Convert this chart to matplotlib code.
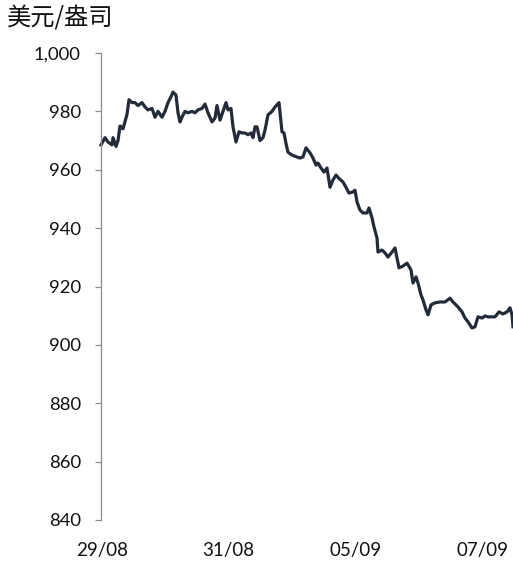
"""Gold price intraday line (USD/oz), 29/08 - 07/09."""

import matplotlib

matplotlib.use("Agg")

import matplotlib.pyplot as plt
from matplotlib.ticker import FuncFormatter

obs = [0, 4, 7, 11, 12, 15, 17, 19, 22, 26, 28, 31, 34, 37, 41, 44, 47, 51,
       54, 57, 61, 64, 67, 70, 72, 75, 77, 79, 81, 84, 87, 91, 94, 97, 101,
       104, 107, 111, 114, 116, 119, 122, 125, 127, 130, 132, 135, 138, 141,
       144, 147, 150, 152, 154, 156, 159, 162, 164, 167, 171, 174, 178, 181,
       183, 185, 187, 191, 196, 199, 202, 205, 209, 212, 215, 217, 220, 223,
       226, 229, 232, 235, 238, 242, 245, 248, 252, 254, 256, 259, 262, 266,
       268, 271, 273, 276, 277, 281, 284, 287, 291, 294, 296, 298, 302, 306,
       310, 312, 315, 317, 320, 322, 325, 327, 330, 334, 339, 344, 349, 352,
       357, 361, 364, 367, 371, 374, 377, 381, 384, 387, 391, 394, 398, 402,
       406, 409, 411, 412]
price = [968.5, 971.0, 969.5, 968.5, 971.0, 968.0, 970.0, 975.0, 974.0, 979.0,
         984.0, 983.0, 983.0, 982.0, 983.0, 981.5, 980.5, 981.0, 978.0, 980.0,
         978.0, 980.0, 983.0, 985.0, 986.6, 985.6, 979.5, 976.4, 978.0, 980.0,
         979.5, 980.0, 979.5, 980.5, 981.0, 982.5, 979.5, 976.4, 977.7, 982.0,
         977.0, 980.0, 983.0, 980.5, 981.0, 974.7, 969.5, 973.0, 972.6, 972.6,
         972.0, 972.6, 971.0, 974.7, 974.7, 970.0, 971.0, 973.6, 978.8, 980.0,
         981.5, 983.0, 973.0, 972.6, 969.0, 966.0, 965.0, 964.4, 964.0, 964.4,
         967.5, 965.8, 964.0, 961.6, 962.3, 960.6, 959.2, 960.6, 954.0, 956.5,
         958.2, 957.0, 955.8, 954.0, 952.0, 952.4, 953.0, 949.0, 946.2, 945.2,
         945.2, 946.9, 943.5, 940.4, 936.6, 931.8, 932.5, 931.5, 930.1, 931.8,
         933.2, 929.8, 926.4, 927.0, 928.0, 925.7, 921.2, 923.3, 921.2, 917.1,
         915.4, 912.0, 910.3, 913.7, 914.4, 914.7, 914.7, 916.0, 914.7, 913.0,
         911.3, 909.2, 907.9, 905.8, 906.2, 909.6, 909.2, 909.9, 909.6, 909.6,
         909.6, 911.3, 910.6, 911.3, 912.7, 910.3, 906.2]

date_pos = [1, 127, 255, 382]
date_labels = ["29/08", "31/08", "05/09", "07/09"]
y_ticks = [840, 860, 880, 900, 920, 940, 960, 980, 1000]

plt.rcParams["font.family"] = ["Lato", "DejaVu Sans"]

fig = plt.figure(figsize=(5.13, 5.62), dpi=100)
ax = fig.add_axes([101 / 513, 42 / 562, 412 / 513, 467 / 562])

ax.plot(obs, price, color="#232a38", lw=2.3, solid_joinstyle="round",
        clip_on=False)

ax.set_xlim(0, 412)
ax.set_ylim(840, 1000)
ax.set_yticks(y_ticks)
ax.yaxis.set_major_formatter(FuncFormatter(lambda v, _: f"{v:,.0f}"))
ax.set_xticks(date_pos, date_labels)

for side in ("top", "right", "bottom"):
    ax.spines[side].set_visible(False)
ax.spines["left"].set_color("#8c8c8c")
ax.spines["left"].set_linewidth(0.9)
ax.tick_params(axis="y", direction="out", length=4.5, width=0.9,
               color="#8c8c8c", pad=10, labelsize=13.3, labelcolor="#111111")
ax.tick_params(axis="x", length=0, pad=16, labelsize=13.5,
               labelcolor="#111111")

fig.text(7 / 513, 1 - 18 / 562, "美元/盎司", fontsize=17.5,
         family=["Noto Sans CJK SC", "DejaVu Sans"], va="center", ha="left",
         color="#111111")

fig.savefig("out.png", dpi=100)
plt.close(fig)
